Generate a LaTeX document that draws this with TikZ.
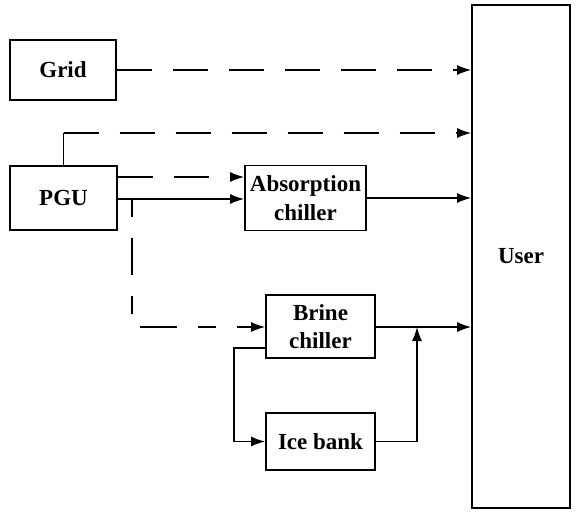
\documentclass[tikz,border=0pt]{standalone}
\usepackage{fontspec}
\setmainfont{Liberation Serif}
\usetikzlibrary{arrows.meta}
\begin{document}
\begin{tikzpicture}[x=1pt,y=-1pt,
  blk/.style={draw,line width=1.7pt,inner sep=0pt,align=center,
    font=\fontsize{23}{28.5}\selectfont\bfseries},
  flow/.style={line width=1.5pt,-{Latex[length=14pt,width=10pt]}},
  plain/.style={line width=1.5pt},
  dsh/.style={dash pattern=on 35pt off 21pt}]
\useasboundingbox (0,0) rectangle (576,512);
\node[blk,minimum width=106pt,minimum height=60pt] (grid) at (63,70) {Grid};
\node[blk,minimum width=107pt,minimum height=64pt] (pgu) at (63.5,198) {PGU};
\node[blk,minimum width=121pt,minimum height=65pt] (abs) at (305.5,198) {Absorption\\chiller};
\node[blk,minimum width=98pt,minimum height=503pt] (user) at (521,256.5) {User};
\node[blk,minimum width=109pt,minimum height=63pt] (brine) at (320.5,326.5) {Brine\\chiller};
\node[blk,minimum width=109pt,minimum height=57pt] (ice) at (320.5,441.5) {Ice bank};
\coordinate (c1) at (63.5,133);
\coordinate (dA) at (0,177);
\coordinate (sA) at (0,199);
\coordinate (br) at (132,199);
\coordinate (bd) at (132,327);
\coordinate (bl) at (0,348);
\coordinate (lx) at (234,0);
\coordinate (rx) at (417,0);
% Grid to user
\draw[flow,dsh] (grid.east) -- (grid.east -| user.west);
% PGU top to user
\draw[plain] (pgu.north) -- (c1);
\draw[flow,dsh] (c1) -- (c1 -| user.west);
% PGU to absorption chiller
\draw[flow,dsh] (pgu.east |- dA) -- (abs.west |- dA);
\draw[flow] (pgu.east |- sA) -- (abs.west |- sA);
% branch to brine chiller
\draw[flow,dash pattern=on 18pt off 21pt on 37pt off 21pt] (br) -- (bd) -- (bd -| brine.west);
% to user
\draw[flow] (abs.east) -- (abs.east -| user.west);
\draw[flow] (brine.east |- bd) -- (bd -| user.west);
% brine chiller to ice bank
\draw[flow] (brine.west |- bl) -- (bl -| lx) -- (lx |- ice.west) -- (ice.west);
% ice bank to junction
\draw[flow] (ice.east) -- (ice.east -| rx) -- (rx |- bd);
\end{tikzpicture}
\end{document}
